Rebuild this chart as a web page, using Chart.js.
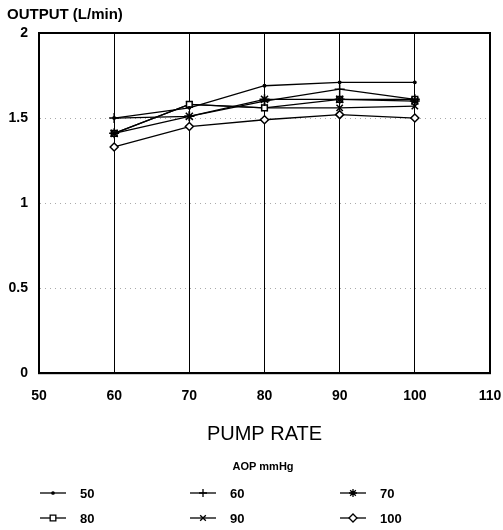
<!DOCTYPE html>
<html>
<head>
<meta charset="utf-8">
<script src="https://cdn.jsdelivr.net/npm/chart.js@4"></script>
<style>
  html, body { margin: 0; padding: 0; background: #fff; }
  #wrap { width: 503px; height: 530px; }
</style>
</head>
<body>
<div id="wrap"><canvas id="c"></canvas></div>
<script>
// pump rate (x) and output for each AOP level
const pumpRate = [60, 70, 80, 90, 100];
const aopLabels = ['50', '60', '70', '80', '90', '100'];
const aop50  = [1.50, 1.56, 1.69, 1.71, 1.71];
const aop60  = [1.50, 1.51, 1.60, 1.67, 1.61];
const aop70  = [1.41, 1.51, 1.61, 1.61, 1.60];
const aop80  = [1.41, 1.58, 1.56, 1.61, 1.61];
const aop90  = [1.41, 1.58, 1.56, 1.56, 1.57];
const aop100 = [1.33, 1.45, 1.49, 1.52, 1.50];
const xTicks = [50, 60, 70, 80, 90, 100, 110];
const yTicks = [0, 0.5, 1, 1.5, 2];

const seriesValues = [aop50, aop60, aop70, aop80, aop90, aop100];
const markers = [
  { style: 'circle', r: 1.2 },
  { style: 'cross', r: 5 },
  { style: 'star', r: 5 },
  { style: 'rect', r: 4 },
  { style: 'crossRot', r: 4.5 },
  { style: 'rectRot', r: 4 }
];

const datasets = seriesValues.map((vals, i) => ({
  label: aopLabels[i],
  data: pumpRate.map((x, j) => ({ x: x, y: vals[j] })),
  borderColor: '#000',
  borderWidth: 1.3,
  backgroundColor: '#fff',
  pointStyle: markers[i].style,
  pointRadius: markers[i].r,
  pointBorderColor: '#000',
  pointBorderWidth: 1.5,
  pointBackgroundColor: i === 0 ? '#000' : '#fff',
  fill: false,
  tension: 0
}));

const boldFont = { family: 'Liberation Sans, Arial, sans-serif', weight: 'bold', size: 14 };

// frame around the plot area
const framePlugin = {
  id: 'frame',
  afterDraw(chart) {
    const a = chart.chartArea, ctx = chart.ctx;
    ctx.save();
    ctx.strokeStyle = '#000';
    ctx.lineWidth = 2;
    ctx.strokeRect(a.left, a.top, a.right - a.left, a.bottom - a.top);
    ctx.restore();
  }
};

// legend drawn as a 3 column grid under the axis title
const gridLegend = {
  id: 'gridLegend',
  afterDraw(chart) {
    const ctx = chart.ctx;
    ctx.save();
    ctx.fillStyle = '#000';
    ctx.font = 'bold 11px Liberation Sans, Arial, sans-serif';
    ctx.textAlign = 'center';
    ctx.textBaseline = 'middle';
    ctx.fillText('AOP mmHg', 263, 467);
    const colX = [40, 190, 340];
    const rowY = [493, 518];
    ctx.font = 'bold 13px Liberation Sans, Arial, sans-serif';
    ctx.textAlign = 'left';
    chart.data.datasets.forEach((ds, i) => {
      const x = colX[i % 3], y = rowY[Math.floor(i / 3)];
      ctx.strokeStyle = '#000';
      ctx.lineWidth = 1.3;
      ctx.beginPath();
      ctx.moveTo(x, y);
      ctx.lineTo(x + 26, y);
      ctx.stroke();
      ctx.fillStyle = i === 0 ? '#000' : '#fff';
      Chart.helpers.drawPoint(ctx, {
        pointStyle: ds.pointStyle,
        radius: Math.min(ds.pointRadius, 4),
        rotation: 0,
        borderWidth: 1.3
      }, x + 13, y);
      ctx.fillStyle = '#000';
      ctx.fillText(ds.label, x + 40, y + 1);
    });
    ctx.restore();
  }
};

new Chart(document.getElementById('c'), {
  type: 'line',
  data: { datasets: datasets },
  options: {
    responsive: true,
    maintainAspectRatio: false,
    animation: false,
    layout: { autoPadding: false, padding: { left: 7, right: 13, top: 2, bottom: 84 } },
    plugins: {
      legend: { display: false },
      tooltip: { enabled: false },
      title: {
        display: true,
        text: 'OUTPUT (L/min)',
        align: 'start',
        color: '#000',
        font: { family: 'Liberation Sans, Arial, sans-serif', weight: 'bold', size: 15 },
        padding: { top: 4, bottom: 9 }
      }
    },
    scales: {
      x: {
        type: 'linear',
        min: 50,
        max: 110,
        afterBuildTicks(axis) { axis.ticks = xTicks.map(v => ({ value: v })); },
        afterFit(axis) { axis.paddingLeft = 0; axis.paddingRight = 0; },
        ticks: { color: '#000', font: boldFont, padding: 15, maxRotation: 0 },
        grid: { color: '#000', lineWidth: 1, drawTicks: false },
        border: { color: '#000', width: 2 },
        title: {
          display: true,
          text: 'PUMP RATE',
          color: '#000',
          font: { family: 'Liberation Sans, Arial, sans-serif', size: 20 },
          padding: { top: 2, bottom: 0 }
        }
      },
      y: {
        type: 'linear',
        min: 0,
        max: 2,
        afterBuildTicks(axis) { axis.ticks = yTicks.map(v => ({ value: v })); },
        afterFit(axis) { axis.width = 32; },
        ticks: {
          color: '#000',
          font: boldFont,
          padding: 11,
          callback: v => String(v)
        },
        grid: {
          color: '#aaa',
          lineWidth: 1,
          drawTicks: false
        },
        border: { color: '#000', width: 2, dash: [1, 4] }
      }
    }
  },
  plugins: [framePlugin, gridLegend]
});
</script>
</body>
</html>
